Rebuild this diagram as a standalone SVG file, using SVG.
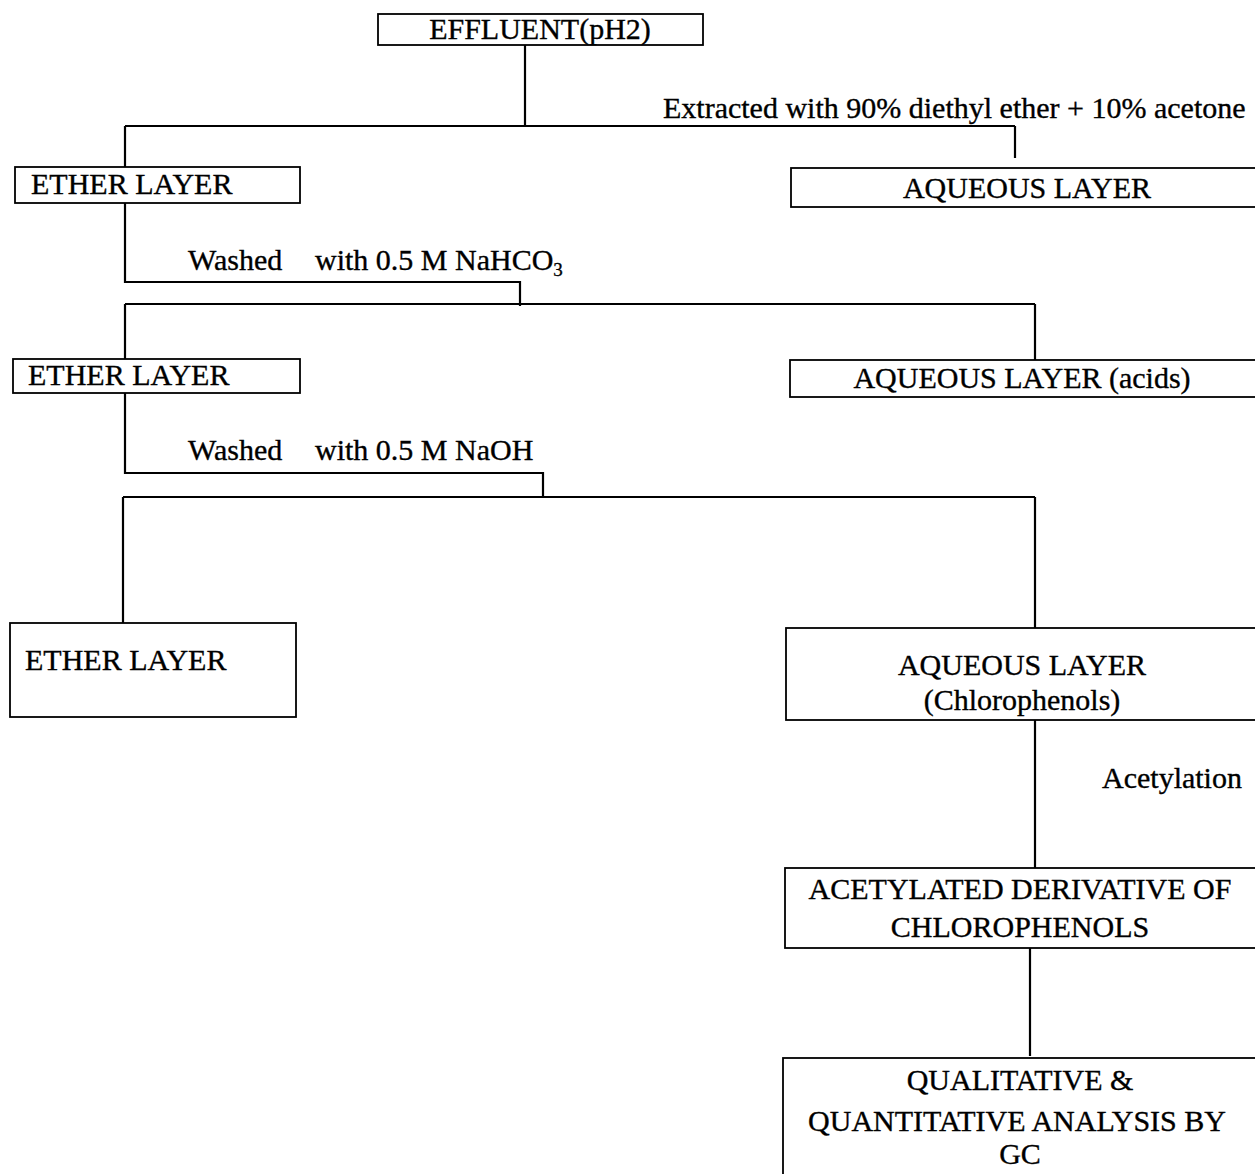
<svg xmlns="http://www.w3.org/2000/svg" width="1255" height="1174" viewBox="0 0 1255 1174">
<style>
.box{fill:#fff;stroke:#000;stroke-width:1.8}
.ln{fill:none;stroke:#000;stroke-width:2.2}
text{font-family:"Liberation Serif","Times New Roman",serif;font-size:30px;fill:#000;stroke:#000;stroke-width:0.35}
.c{text-anchor:middle}
</style>
<rect width="1255" height="1174" fill="#fff"/>
<g id="connectors">
<path class="ln" d="M525 45V126M125 126H1015M125 126V167M1015 126V158"/>
<path class="ln" d="M125 203V282H520V306M125 304H1035M125 304V359M1035 304V360"/>
<path class="ln" d="M125 393V473H543V497M123 497H1035M123 497V630M1035 497V628"/>
<path class="ln" d="M1035 720V868M1030 948V1056"/>
<text x="663" y="118">Extracted with 90% diethyl ether + 10% acetone</text>
<text x="188" y="270">Washed</text>
<text x="315" y="270">with 0.5 M NaHCO<tspan font-size="19" dy="6">3</tspan></text>
<text x="188" y="460">Washed</text>
<text x="315" y="460">with 0.5 M NaOH</text>
<text x="1102" y="788" font-size="29">Acetylation</text>
</g>
<g id="effluent">
<rect class="box" x="378" y="14" width="325" height="31"/>
<text class="c" x="540" y="39">EFFLUENT(pH2)</text>
</g>
<g id="ether1">
<rect class="box" x="15" y="167" width="285" height="36"/>
<text x="31" y="194">ETHER LAYER</text>
</g>
<g id="aqueous1">
<rect class="box" x="791" y="168" width="470" height="39"/>
<text class="c" x="1027" y="198">AQUEOUS LAYER</text>
</g>
<g id="ether2">
<rect class="box" x="13" y="359" width="287" height="34"/>
<text x="28" y="385">ETHER LAYER</text>
</g>
<g id="aqueous2">
<rect class="box" x="790" y="360" width="470" height="37"/>
<text class="c" x="1022" y="388">AQUEOUS LAYER (acids)</text>
</g>
<g id="ether3">
<rect class="box" x="10" y="623" width="286" height="94"/>
<text x="25" y="670">ETHER LAYER</text>
</g>
<g id="aqueous3">
<rect class="box" x="786" y="628" width="474" height="92"/>
<text class="c" x="1022" y="675">AQUEOUS LAYER</text>
<text class="c" x="1022" y="710">(Chlorophenols)</text>
</g>
<g id="acetylated">
<rect class="box" x="785" y="868" width="475" height="80"/>
<text class="c" x="1020" y="899">ACETYLATED DERIVATIVE OF</text>
<text class="c" x="1020" y="937">CHLOROPHENOLS</text>
</g>
<g id="analysis">
<rect class="box" x="783" y="1058" width="477" height="130"/>
<text class="c" x="1020" y="1090">QUALITATIVE &amp;</text>
<text class="c" x="1017" y="1131">QUANTITATIVE ANALYSIS BY</text>
<text class="c" x="1020" y="1164">GC</text>
</g>
</svg>
